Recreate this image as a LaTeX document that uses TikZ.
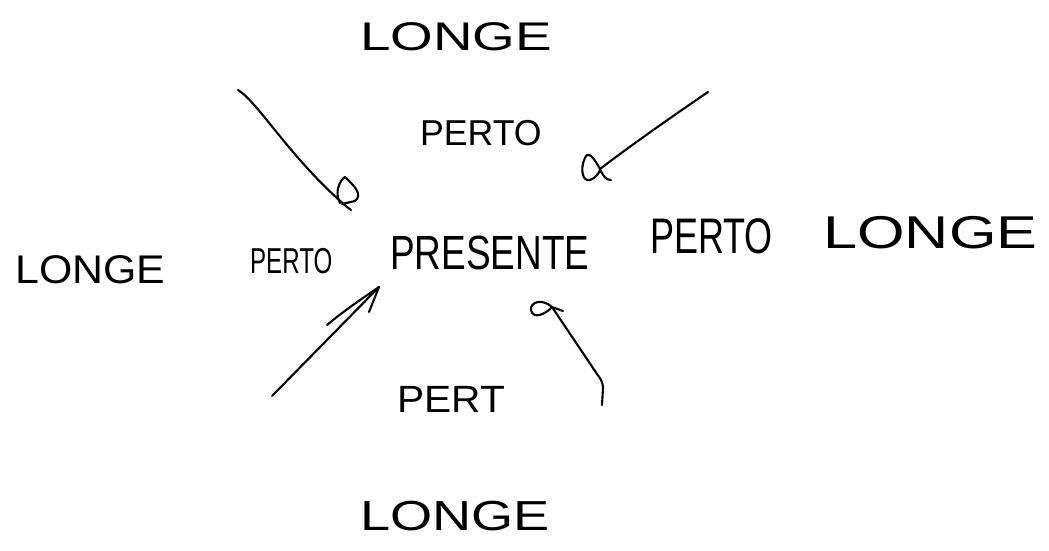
\documentclass[tikz,border=0pt]{standalone}
\usepackage{fontspec}
\setmainfont{Liberation Sans}
\begin{document}
\begin{tikzpicture}[x=1pt,y=-1pt,
  word/.style={inner sep=0pt, anchor=base west, font=\fontsize{#1}{#1}\selectfont},
  pen/.style={line width=2.1pt, line cap=round, line join=round}]
\useasboundingbox (0,0) rectangle (1049,551);

% words
\node[word=40, xscale=1.37] (longeN) at (360,51) {LONGE};
\node[word=36, xscale=0.99] (pertoN) at (420,145) {PERTO};
\node[word=40, xscale=1.07] (longeW) at (15,283) {LONGE};
\node[word=36, xscale=0.67] (pertoW) at (250,273) {PERTO};
\node[word=48, xscale=0.77] (presente) at (390,269) {PRESENTE};
\node[word=50, xscale=0.72] (pertoE) at (650,253) {PERTO};
\node[word=46, xscale=1.33] (longeE) at (823,248) {LONGE};
\node[word=38, xscale=1.07] (pertS) at (397,412) {PERT};
\node[word=42, xscale=1.29] (longeS) at (360,530) {LONGE};

% arrow ends
\coordinate (a1s) at (238,90);
\coordinate (a1e) at (347,207);
\coordinate (a2s) at (708,92);
\coordinate (a2e) at (600,169);
\coordinate (a3s) at (272,396);
\coordinate (a3e) at (379,287);
\coordinate (a4s) at (602,405);
\coordinate (a4e) at (552,307);

% upper left arrow with its looped tip
\draw[pen] (a1s) .. controls (258,102) and (290,158) .. (a1e) -- (351,210);
\draw[pen] (340,203) .. controls (334,192) and (340,180) .. (345,177)
  .. controls (352,184) and (364,194) .. (355,201) -- (342,204);

% upper right arrow ending in a loop
\draw[pen] (a2s) .. controls (670,118) and (630,146) .. (a2e);
\draw[pen] (a2e) .. controls (594,158) and (588,150) .. (585,158)
  .. controls (580,168) and (582,182) .. (590,180)
  .. controls (596,178) and (600,172) .. (a2e)
  .. controls (603,176) and (606,180) .. (611,180);

% lower left arrow with an open head
\draw[pen] (a3s) -- (a3e);
\draw[pen] (327,325) .. controls (345,310) and (360,300) .. (a3e) -- (369,312);

% lower right arrow ending in a loop
\draw[pen] (a4s) -- (603,388) .. controls (603,382) and (600,378) .. (597,374) -- (a4e);
\draw[pen] (a4e) .. controls (542,298) and (530,302) .. (531,310)
  .. controls (533,320) and (546,314) .. (a4e) -- (563,311);
\end{tikzpicture}
\end{document}
